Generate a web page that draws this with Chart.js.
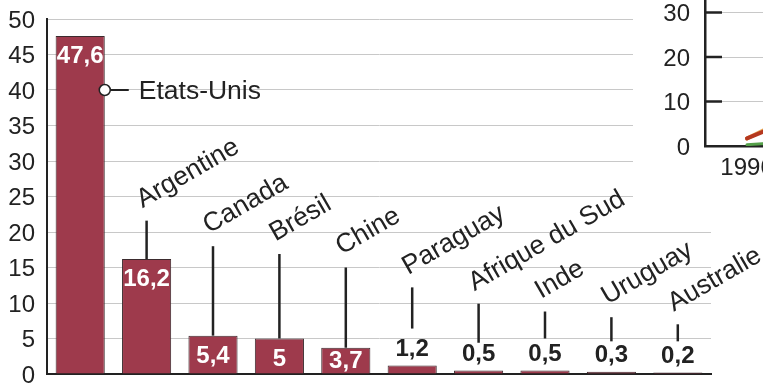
<!DOCTYPE html>
<html lang="fr">
<head>
<meta charset="utf-8">
<title>Surfaces cultivées par pays</title>
<script src="https://cdn.jsdelivr.net/npm/chart.js@4.4.1/dist/chart.umd.min.js"></script>
<style>
  html, body { margin: 0; padding: 0; background: #fff; overflow: hidden; }
  #wrap { position: relative; width: 763px; height: 383px; overflow: hidden; background: #fff; }
  #main { position: absolute; left: 0; top: 0; width: 763px; height: 383px; }
  #inset { position: absolute; left: 633px; top: -307px; width: 912px; height: 517px; }
</style>
</head>
<body>
<div id="wrap">
  <canvas id="main" width="763" height="383"></canvas>
  <canvas id="inset" width="912" height="517"></canvas>
</div>
<script>
// ---- Main bar chart data ----
const countries = ['Etats-Unis', 'Argentine', 'Canada', 'Brésil', 'Chine',
                   'Paraguay', 'Afrique du Sud', 'Inde', 'Uruguay', 'Australie'];
const areas = [47.6, 16.2, 5.4, 5, 3.7, 1.2, 0.5, 0.5, 0.3, 0.2];
const yTickValues = [0, 5, 10, 15, 20, 25, 30, 35, 40, 45, 50];

// Leader lines for the slanted country names (in axis units)
const leaderTop = [null, 21.6, 18, 16.9, 15, 12.2, 9.9, 8.8, 8, 7];
const leaderEnd = [null, null, null, null, null, 6.4, 4.4, 5, 4.6, 4.6];
const usMarkerValue = 40;

// ---- Inset line chart data ----
const years = ['1996', '1997', '1998', '1999', '2000', '2001', '2002', '2003', '2004', '2005'];
const totalArea = [1.7, 11.0, 27.8, 39.9, 44.2, 52.6, 58.7, 67.7, 81.0, 90.0];
const industrialArea = [1.7, 9.5, 23.4, 32.8, 33.4, 38.3, 42.7, 47.3, 49.4, 55.2];
const developingArea = [0.3, 1.5, 4.4, 7.1, 10.8, 14.3, 16.0, 20.4, 31.6, 34.8];
const insetTickValues = [0, 10, 20, 30, 40, 50, 60, 70, 80, 90, 100];

const FONT = '"Liberation Sans", Arial, Helvetica, sans-serif';
const INK = '#222222';
const GRID = '#c8c8c8';
const BAR = '#9e3a4c';

const fmt = v => String(v).replace('.', ',');

// Value labels, leader lines and country names
const annotate = {
  id: 'annotate',
  afterDatasetsDraw(chart) {
    const ctx = chart.ctx;
    const yScale = chart.scales.y;
    const meta = chart.getDatasetMeta(0);
    ctx.save();
    meta.data.forEach((bar, i) => {
      const v = areas[i];
      ctx.font = 'bold 24px ' + FONT;
      ctx.textAlign = 'center';
      ctx.textBaseline = 'middle';
      if (v >= 3) {
        ctx.fillStyle = '#ffffff';
        ctx.fillText(fmt(v), bar.x, Math.min(bar.y + 20.5, 361));
      } else {
        ctx.fillStyle = INK;
        ctx.fillText(fmt(v), bar.x, bar.y - 16);
      }
      if (leaderTop[i] != null) {
        const top = yScale.getPixelForValue(leaderTop[i]);
        const end = leaderEnd[i] != null ? yScale.getPixelForValue(leaderEnd[i]) : bar.y;
        ctx.strokeStyle = INK;
        ctx.lineWidth = 2.5;
        ctx.beginPath();
        ctx.moveTo(bar.x, top);
        ctx.lineTo(bar.x, end);
        ctx.stroke();
        ctx.save();
        ctx.translate(bar.x - 4, top - 12.5);
        ctx.rotate(-30 * Math.PI / 180);
        ctx.font = '26.5px ' + FONT;
        ctx.textAlign = 'left';
        ctx.textBaseline = 'alphabetic';
        ctx.fillStyle = INK;
        ctx.fillText(countries[i], 0, 0);
        ctx.restore();
      }
    });
    // Marker and name for the first bar
    const b0 = meta.data[0];
    const mx = b0.x + b0.width / 2;
    const my = yScale.getPixelForValue(usMarkerValue);
    ctx.strokeStyle = INK;
    ctx.lineWidth = 2;
    ctx.beginPath();
    ctx.moveTo(mx + 5, my);
    ctx.lineTo(mx + 24, my);
    ctx.stroke();
    ctx.beginPath();
    ctx.arc(mx, my, 5.5, 0, Math.PI * 2);
    ctx.fillStyle = '#ffffff';
    ctx.fill();
    ctx.lineWidth = 1.5;
    ctx.stroke();
    ctx.font = '26.5px ' + FONT;
    ctx.textAlign = 'left';
    ctx.textBaseline = 'alphabetic';
    ctx.fillStyle = INK;
    ctx.fillText(countries[0], mx + 34, my + 8.5);
    ctx.restore();
  }
};

new Chart(document.getElementById('main'), {
  type: 'bar',
  data: {
    labels: countries,
    datasets: [{
      data: areas,
      backgroundColor: BAR,
      borderColor: '#3b2b2e',
      borderWidth: 1,
      barPercentage: 0.74,
      categoryPercentage: 1
    }]
  },
  options: {
    responsive: false,
    animation: false,
    devicePixelRatio: 1,
    layout: { padding: { top: 19, right: 52, left: 0, bottom: 0 } },
    plugins: { legend: { display: false }, tooltip: { enabled: false } },
    scales: {
      x: {
        grid: { display: false, drawTicks: false },
        border: { color: INK, width: 2 },
        ticks: { display: false },
        afterFit(s) { s.height = 9; }
      },
      y: {
        min: 0,
        max: 50,
        afterBuildTicks(s) { s.ticks = yTickValues.map(v => ({ value: v })); },
        grid: { color: GRID, lineWidth: 1, drawTicks: false },
        border: { color: INK, width: 2 },
        ticks: { color: INK, padding: 12, labelOffset: 2, font: { family: FONT, size: 24 } },
        afterFit(s) { s.width = 47; s.paddingTop = 0; s.paddingBottom = 0; }
      }
    }
  },
  plugins: [annotate]
});

// ---- Inset ----
const whiteBg = {
  id: 'whiteBg',
  beforeDraw(chart) {
    const ctx = chart.ctx;
    ctx.save();
    ctx.fillStyle = '#ffffff';
    ctx.fillRect(0, 0, chart.width, chart.height);
    ctx.restore();
  }
};
const innerTicks = {
  id: 'innerTicks',
  beforeDatasetsDraw(chart) {
    const ctx = chart.ctx;
    const ys = chart.scales.y;
    const left = chart.chartArea.left;
    ctx.save();
    ctx.strokeStyle = INK;
    ctx.lineWidth = 2.5;
    insetTickValues.forEach(v => {
      if (v === 0) return;
      const py = ys.getPixelForValue(v);
      ctx.beginPath();
      ctx.moveTo(left, py);
      ctx.lineTo(left + 17, py);
      ctx.stroke();
    });
    ctx.restore();
  }
};

new Chart(document.getElementById('inset'), {
  type: 'line',
  data: {
    labels: years,
    datasets: [
      { data: developingArea, borderColor: '#55a04a', borderWidth: 3 },
      { data: industrialArea, borderColor: '#b5381f', borderWidth: 4 },
      { data: totalArea, borderColor: '#e9a955', borderWidth: 4 }
    ]
  },
  options: {
    responsive: false,
    animation: false,
    devicePixelRatio: 1,
    layout: { padding: { top: 8, right: 0, left: 0, bottom: 0 }, autoPadding: false },
    elements: { point: { radius: 0 }, line: { borderCapStyle: 'round', tension: 0 } },
    plugins: { legend: { display: false }, tooltip: { enabled: false } },
    scales: {
      x: {
        offset: true,
        grid: { display: false, drawTicks: false },
        border: { color: INK, width: 2.5 },
        ticks: { color: INK, padding: 8, autoSkip: false, maxRotation: 0, font: { family: FONT, size: 24 } },
        afterFit(s) { s.height = 64; s.paddingLeft = 0; s.paddingRight = 0; }
      },
      y: {
        min: 0,
        max: 100,
        afterBuildTicks(s) { s.ticks = insetTickValues.map(v => ({ value: v })); },
        grid: { color: GRID, lineWidth: 1, drawTicks: false },
        border: { color: INK, width: 2.5 },
        ticks: { color: INK, padding: 15, labelOffset: 2, font: { family: FONT, size: 24 } },
        afterFit(s) { s.width = 72; s.paddingTop = 0; s.paddingBottom = 0; }
      }
    }
  },
  plugins: [whiteBg, innerTicks]
});
</script>
</body>
</html>
